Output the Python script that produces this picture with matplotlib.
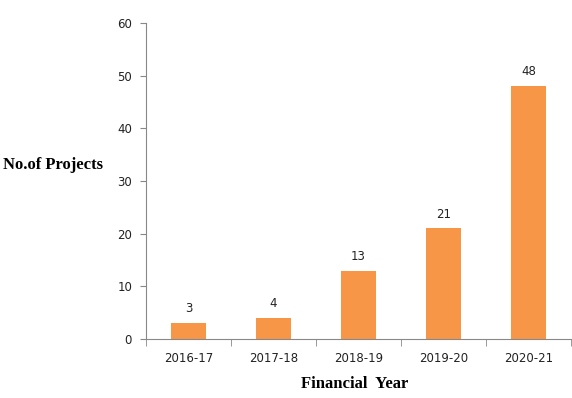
import matplotlib
matplotlib.use("Agg")
import matplotlib.pyplot as plt
import numpy as np

years = ["2016-17", "2017-18", "2018-19", "2019-20", "2020-21"]
projects = [3, 4, 13, 21, 48]

fig = plt.figure(figsize=(5.72, 3.98), dpi=100)
ax = fig.add_axes([146 / 572, 59 / 398, 425 / 572, 316 / 398])

x = np.arange(len(years))
ax.bar(x, projects, width=0.41, color="#F79646", zorder=2)

# value labels above the bars
for xi, v in zip(x, projects):
    ax.text(xi, v + 1.5, str(v), ha="center", va="bottom", fontsize=8.5, color="#222222")

ax.set_xlim(-0.5, len(years) - 0.5)
ax.set_ylim(0, 60)
ax.set_yticks(range(0, 61, 10))
ax.set_xticks(x)
ax.set_xticklabels(years)
ax.set_xticks(np.arange(-0.5, len(years), 1), minor=True)
ax.tick_params(axis="x", which="major", length=0, pad=9, labelsize=8.5, labelcolor="#222222")
ax.tick_params(axis="x", which="minor", length=5, color="#888888", direction="out")
ax.tick_params(axis="y", length=4, color="#888888", labelsize=8.5, labelcolor="#222222", pad=6)

for side in ["top", "right"]:
    ax.spines[side].set_visible(False)
ax.spines["left"].set_color("#888888")
ax.spines["bottom"].set_color("#888888")

fig.text(3 / 572, 1 - 165 / 398, "No.of Projects", family="Liberation Serif", weight="bold",
         fontsize=12, ha="left", va="center")
fig.text(355 / 572, 1 - 384 / 398, "Financial  Year", family="Liberation Serif", weight="bold",
         fontsize=12, ha="center", va="center")

fig.savefig("out.png", dpi=100)
